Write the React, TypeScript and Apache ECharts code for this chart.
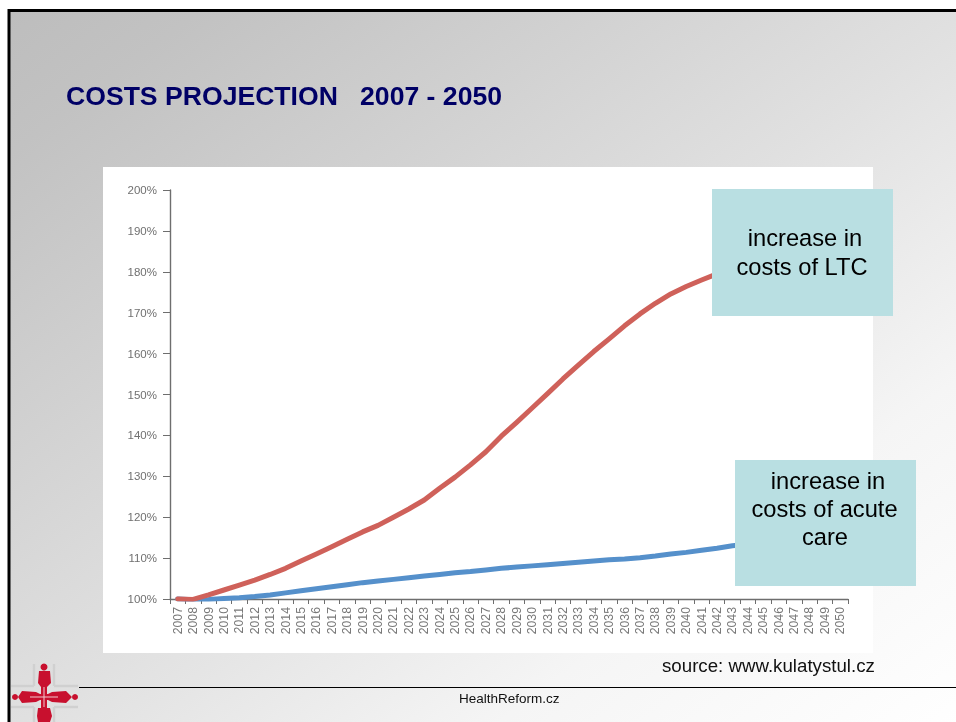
import React, { useEffect, useRef } from "react";
import * as echarts from "echarts";

const years = Array.from({ length: 44 }, (_, i) => String(2007 + i));

// Long-term care costs, percent of the 2007 level
const ltcCosts = [
  100, 99.9, 101, 102.2, 103.4, 104.6, 106, 107.5, 109.3, 111, 112.8, 114.6,
  116.4, 118, 120, 122, 124.2, 127.1, 129.8, 132.8, 136, 139.8, 143.2,
  146.7, 150.2, 153.8, 157.2, 160.5, 163.6, 166.8, 169.7, 172.3, 174.6, 176.4,
  178, 179.5, 181, 182.5, 184, 185.3, 186.5, 187.7, 188.8, 189.8,
];

// Acute care costs, percent of the 2007 level
const acuteCosts = [
  100, 99.8, 99.9, 100.1, 100.3, 100.6, 101, 101.5, 102, 102.5, 103, 103.5,
  104, 104.4, 104.8, 105.2, 105.6, 106, 106.4, 106.7, 107.1, 107.5, 107.8,
  108.1, 108.4, 108.7, 109, 109.3, 109.6, 109.8, 110.1, 110.5, 111, 111.4,
  111.9, 112.4, 113, 113.4, 113.8, 114.2, 114.6, 115, 115.4, 115.8,
];

const SANS = "'Liberation Sans', Arial, sans-serif";
const RED = "#c8102e";
const FRAME_GREY = "#d0d0d0";

// Crossed-figures emblem in the lower left corner
const emblem = [
  ...[
    [34, 664, 34, 686],
    [54, 664, 54, 686],
    [11, 686, 34, 686],
    [54, 686, 78, 686],
    [11, 707, 34, 707],
    [54, 707, 78, 707],
    [34, 707, 34, 722],
    [54, 707, 54, 722],
  ].map(([x1, y1, x2, y2]) => ({
    type: "line",
    z: 90,
    shape: { x1, y1, x2, y2 },
    style: { stroke: FRAME_GREY, lineWidth: 2.5 },
  })),
  { type: "circle", z: 91, shape: { cx: 44, cy: 667, r: 3.5 }, style: { fill: RED } },
  {
    type: "polygon",
    z: 91,
    shape: { points: [[39, 671], [50, 671], [51, 683], [47, 687], [47, 722], [41, 722], [41, 687], [38, 683]] },
    style: { fill: RED },
  },
  {
    type: "polygon",
    z: 91,
    shape: { points: [[38, 708], [50, 708], [52, 716], [50, 722], [38, 722], [37, 716]] },
    style: { fill: RED },
  },
  { type: "circle", z: 91, shape: { cx: 15, cy: 697, r: 3 }, style: { fill: RED } },
  { type: "circle", z: 91, shape: { cx: 75, cy: 697, r: 3 }, style: { fill: RED } },
  {
    type: "polygon",
    z: 91,
    shape: { points: [[22, 691], [36, 692], [40, 694], [48, 694], [52, 692], [66, 691], [72, 697], [66, 703], [52, 702], [48, 700], [40, 700], [36, 702], [22, 703], [18, 697]] },
    style: { fill: RED },
  },
  {
    type: "line",
    z: 92,
    shape: { x1: 30, y1: 697, x2: 58, y2: 697 },
    style: { stroke: "#f0c8cc", lineWidth: 1 },
  },
  {
    type: "line",
    z: 92,
    shape: { x1: 44, y1: 687, x2: 44, y2: 707 },
    style: { stroke: "#f0c8cc", lineWidth: 1 },
  },
];

function calloutBox(x: number, y: number, width: number, height: number) {
  return {
    type: "rect",
    z: 100,
    shape: { x, y, width, height },
    style: { fill: "#b9dfe2" },
  };
}

function calloutText(cx: number, y: number, text: string) {
  return {
    type: "text",
    z: 101,
    x: cx,
    y,
    style: {
      text,
      fill: "#000",
      font: `23.7px ${SANS}`,
      align: "center",
      verticalAlign: "top",
    },
  };
}

export default function App() {
  const ref = useRef<HTMLDivElement>(null);

  useEffect(() => {
    const chart = echarts.init(ref.current!, null, { renderer: "svg" });
    chart.setOption({
      animation: false,
      grid: { left: 170, right: 108, top: 190, bottom: 123 },
      xAxis: {
        type: "category",
        data: years,
        boundaryGap: true,
        axisLine: { lineStyle: { color: "#6e6e6e", width: 1.4 } },
        axisTick: { show: true, interval: 0, length: 5, lineStyle: { color: "#6e6e6e" } },
        axisLabel: {
          interval: 0,
          rotate: 90,
          margin: 8,
          color: "#787878",
          fontFamily: SANS,
          fontSize: 12.3,
        },
      },
      yAxis: {
        type: "value",
        min: 100,
        max: 200,
        interval: 10,
        splitLine: { show: false },
        axisLine: { show: true, lineStyle: { color: "#6e6e6e", width: 1.4 } },
        axisTick: { show: true, length: 7, lineStyle: { color: "#6e6e6e" } },
        axisLabel: {
          formatter: "{value}%",
          margin: 13,
          color: "#707070",
          fontFamily: SANS,
          fontSize: 11.5,
        },
      },
      series: [
        {
          name: "acute care",
          type: "line",
          data: acuteCosts,
          symbol: "none",
          z: 3,
          lineStyle: { color: "#5590cb", width: 5, cap: "round", join: "round" },
        },
        {
          name: "LTC",
          type: "line",
          data: ltcCosts,
          symbol: "none",
          z: 4,
          lineStyle: { color: "#cf615a", width: 5, cap: "round", join: "round" },
        },
      ],
      graphic: {
        elements: [
          {
            type: "rect",
            z: -20,
            shape: { x: 9, y: 10.5, width: 960, height: 720 },
            style: {
              stroke: "#000",
              lineWidth: 3,
              fill: {
                type: "linear",
                x: 0,
                y: 0,
                x2: 1,
                y2: 1,
                colorStops: [
                  { offset: 0, color: "#bdbdbd" },
                  { offset: 0.1, color: "#c2c2c2" },
                  { offset: 0.5, color: "#e0e0e0" },
                  { offset: 0.75, color: "#f5f5f5" },
                  { offset: 1, color: "#ffffff" },
                ],
              },
            },
          },
          {
            type: "rect",
            z: -10,
            shape: { x: 103, y: 167, width: 770, height: 486 },
            style: { fill: "#fff" },
          },
          {
            type: "text",
            z: 50,
            x: 66,
            y: 82,
            style: {
              text: "COSTS PROJECTION   2007 - 2050",
              fill: "#000066",
              font: `bold 26.6px ${SANS}`,
              verticalAlign: "top",
            },
          },
          calloutBox(712, 189, 181, 127),
          calloutText(805, 226, "increase in"),
          calloutText(802, 255, "costs of LTC"),
          calloutBox(735, 460, 181, 126),
          calloutText(828, 469, "increase in"),
          calloutText(824.5, 497, "costs of acute"),
          calloutText(825, 525, "care"),
          {
            type: "text",
            z: 50,
            x: 662,
            y: 656,
            style: {
              text: "source: www.kulatystul.cz",
              fill: "#111",
              font: `18.7px ${SANS}`,
              verticalAlign: "top",
            },
          },
          {
            type: "line",
            z: 50,
            shape: { x1: 79, y1: 687.5, x2: 956, y2: 687.5 },
            style: { stroke: "#000", lineWidth: 1 },
          },
          {
            type: "text",
            z: 50,
            x: 459,
            y: 691,
            style: {
              text: "HealthReform.cz",
              fill: "#111",
              font: `13.5px ${SANS}`,
              verticalAlign: "top",
            },
          },
          ...emblem,
        ],
      },
    });
    return () => chart.dispose();
  }, []);

  return (
    <div
      ref={ref}
      style={{ position: "fixed", left: 0, top: 0, width: 956, height: 722, overflow: "hidden" }}
    />
  );
}
